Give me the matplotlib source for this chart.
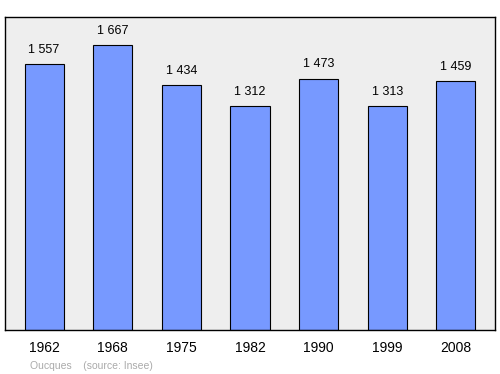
import matplotlib
matplotlib.use("Agg")
import matplotlib.pyplot as plt

years = ["1962", "1968", "1975", "1982", "1990", "1999", "2008"]
population = [1557, 1667, 1434, 1312, 1473, 1313, 1459]
value_labels = ["1 557", "1 667", "1 434", "1 312", "1 473", "1 313", "1 459"]

plt.rcParams["font.family"] = ["Liberation Sans", "DejaVu Sans"]

fig = plt.figure(figsize=(5, 3.74), dpi=100)
ax = fig.add_axes([0.01, 0.1176, 0.98, 0.837])
ax.set_facecolor("#eeeeee")

positions = range(len(years))
ax.bar(positions, population, width=0.57, color="#7799ff",
       edgecolor="#000000", linewidth=0.8)

for x, value, label in zip(positions, population, value_labels):
    ax.annotate(label, (x, value), xytext=(0, 6), textcoords="offset points",
                ha="center", va="bottom", fontsize=9)

ax.set_xlim(-0.57, len(years) - 0.43)
ax.set_ylim(0, max(population) * 1.1)
ax.set_yticks([])
ax.set_xticks(list(positions))
ax.set_xticklabels(years, fontsize=10)
ax.tick_params(axis="x", length=0, pad=8)

for spine in ax.spines.values():
    spine.set_linewidth(1.0)

fig.text(0.06, 0.014, "Oucques    (source: Insee)", fontsize=7.5, color="#aaaaaa")

fig.savefig("out.png")
